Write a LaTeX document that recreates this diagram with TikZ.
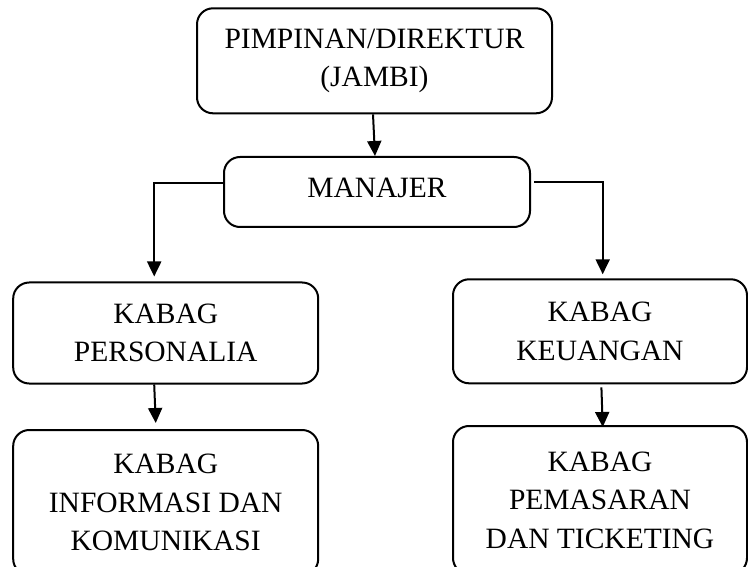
\documentclass[tikz,border=0pt]{standalone}
\usepackage{fontspec}
\setmainfont{Liberation Serif}
\usetikzlibrary{arrows.meta}

\tikzset{
	box/.style = {draw, line width=2pt, rounded corners=16pt, align=center, inner sep=2pt,
		font=\fontsize{29.5}{38.5}\selectfont},
	link/.style = {line width=2pt, -{Triangle[width=14pt,length=15pt]}}
}

\begin{document}
\begin{tikzpicture}[x=1pt, y=-1pt]
		\useasboundingbox (0,0) rectangle (748,567);
		\node[box, minimum width=355pt, minimum height=105pt] (top) at (374.5,60.8) {PIMPINAN/DIREKTUR\\(JAMBI)};
		\node[box, minimum width=306pt, minimum height=70pt, text depth=8pt] (manajer) at (377,192) {MANAJER};
		\node[box, minimum width=305pt, minimum height=101pt] (personalia) at (165.7,333) {KABAG\\PERSONALIA};
		\node[box, minimum width=305pt, minimum height=145pt] (informasi) at (165.7,502.5) {KABAG\\INFORMASI DAN\\KOMUNIKASI};
		\node[box, minimum width=294pt, minimum height=104pt] (keuangan) at (600,331.3) {KABAG\\KEUANGAN};
		\node[box, minimum width=294pt, minimum height=148pt] (pemasaran) at (600,500) {KABAG\\PEMASARAN\\DAN TICKETING};
		\draw[link] ([xshift=-1.5pt]top.south) -- ([xshift=-2pt]manajer.north);
		\draw[link, shorten >=5pt] ([yshift=9pt]manajer.west) -| ([xshift=-11.5pt]personalia.north);
		\draw[link, shorten <=3pt, shorten >=4pt] ([yshift=9.5pt]manajer.east) -| ([xshift=2.7pt]keuangan.north);
		\draw[link, shorten >=6pt] ([xshift=-11.5pt]personalia.south) -- ([xshift=-9.7pt]informasi.north);
		\draw[link, shorten <=3pt, shorten >=-2pt] ([xshift=1.3pt]keuangan.south) -- ([xshift=2.7pt]pemasaran.north);
	\end{tikzpicture}
\end{document}
